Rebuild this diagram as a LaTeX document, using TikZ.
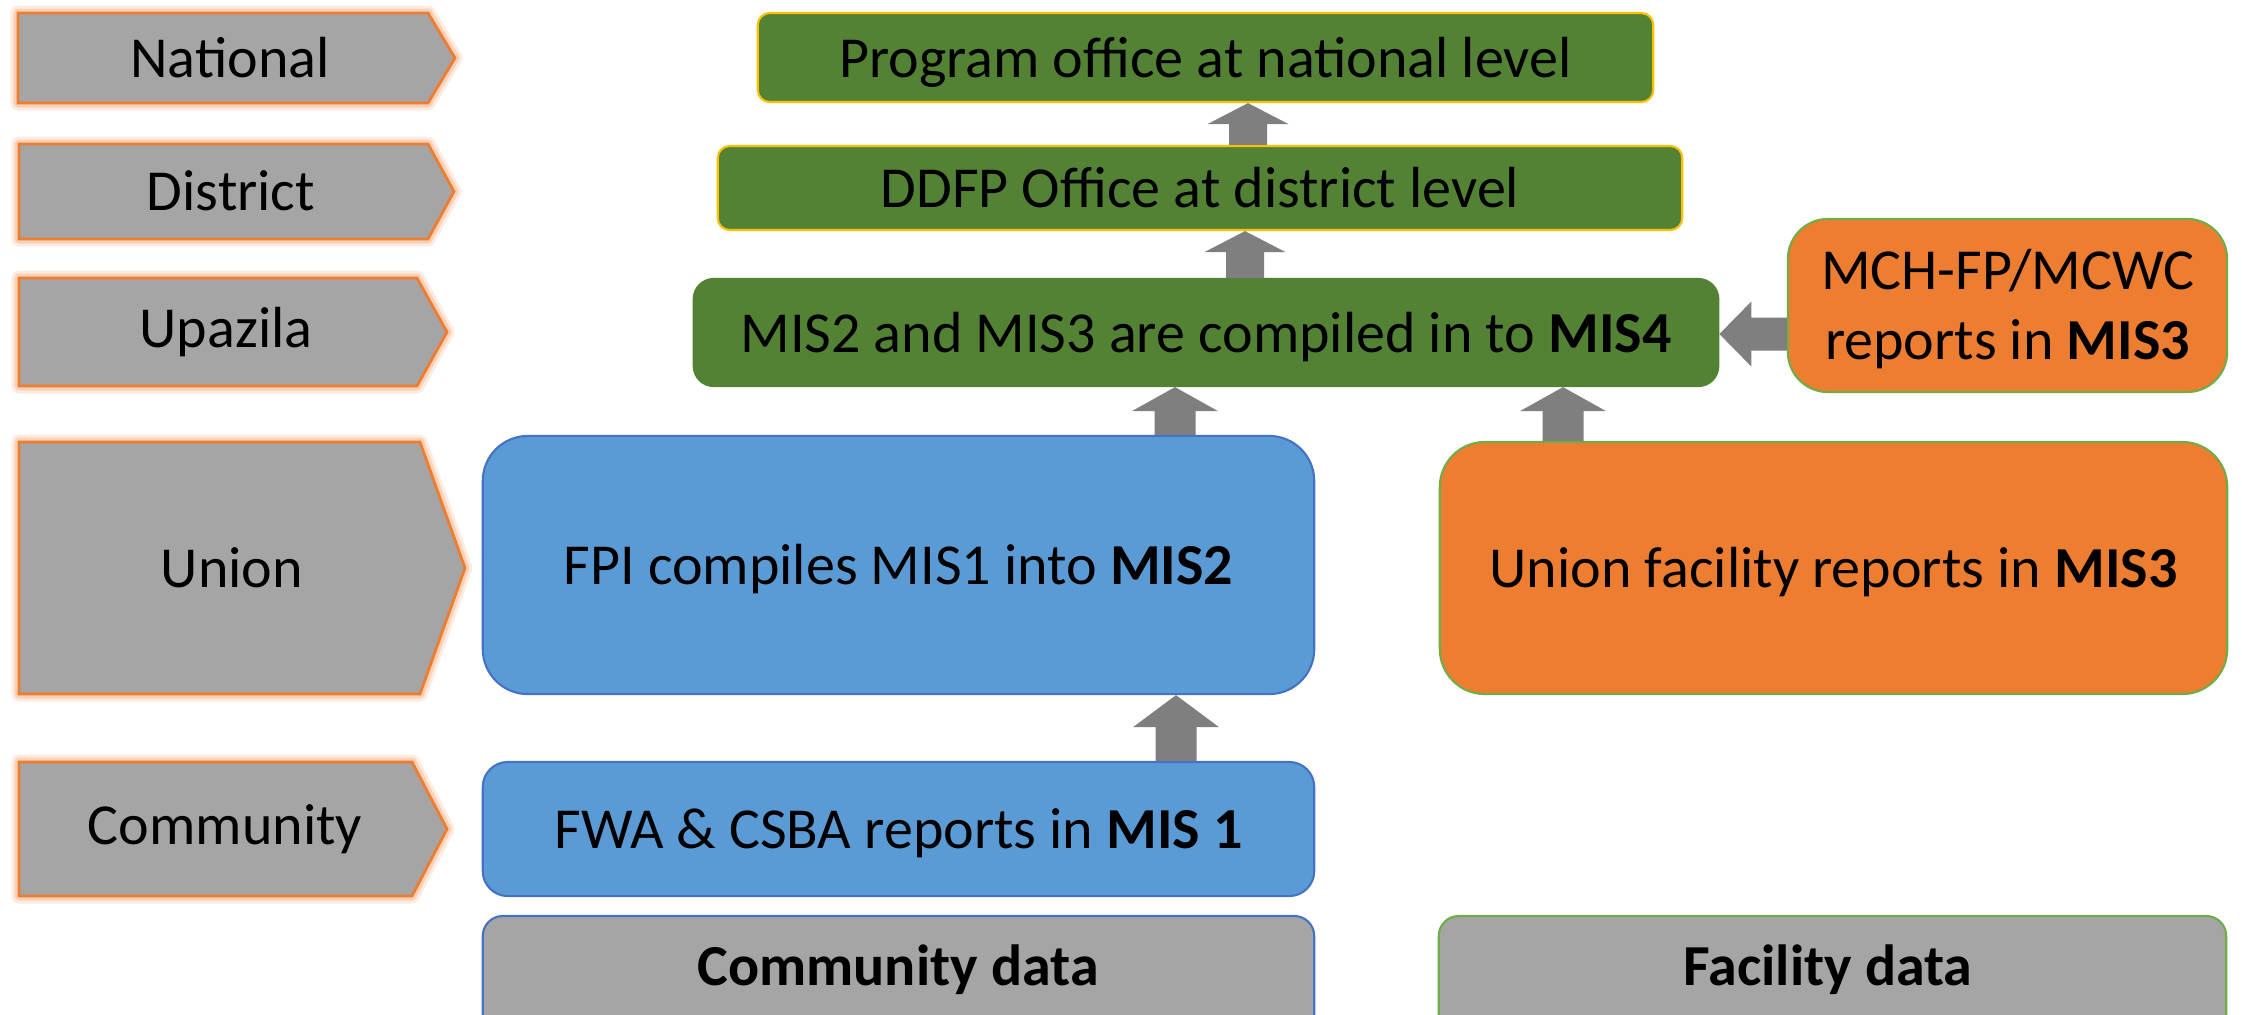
\documentclass[tikz,border=0pt]{standalone}
\usepackage{fontspec}
\setmainfont{Carlito}
\usetikzlibrary{calc}
\definecolor{chevgray}{HTML}{A5A5A5}
\definecolor{orng}{HTML}{ED7D31}
\definecolor{glowc}{HTML}{F4B183}
\definecolor{grn}{HTML}{548235}
\definecolor{yel}{HTML}{FFC000}
\definecolor{blu}{HTML}{5B9BD5}
\definecolor{bluedge}{HTML}{4472C4}
\definecolor{grnedge}{HTML}{70AD47}
\definecolor{arrgray}{HTML}{7F7F7F}
\tikzset{
  box/.style={rectangle, inner sep=0pt, align=center, text=black, line width=0.6pt, text height=0.39cm, text depth=0pt},
  greenbox/.style={box, fill=grn, draw=yel, rounded corners=0.12cm},
  bluebox/.style={box, fill=blu, draw=bluedge},
  orangebox/.style={box, fill=orng, draw=grnedge},
  graybox/.style={box, fill=chevgray, rounded corners=0.2cm},
  lvl/.style={inner sep=0pt, text=black},
}
\newcommand\chev[5]{% x0 y0 xbody xtip y1
  \draw[glowc, line width=0.15cm, opacity=0.25, line join=round] (#1,#2) -- (#3,#2) -- (#4,{(#2+#5)/2}) -- (#3,#5) -- (#1,#5) -- cycle;
  \draw[glowc, line width=0.09cm, opacity=0.45, line join=round] (#1,#2) -- (#3,#2) -- (#4,{(#2+#5)/2}) -- (#3,#5) -- (#1,#5) -- cycle;
  \filldraw[fill=chevgray, draw=orng, line width=0.028cm] (#1,#2) -- (#3,#2) -- (#4,{(#2+#5)/2}) -- (#3,#5) -- (#1,#5) -- cycle;}
\newcommand\uparr[5]{% start, tip, shaft w, head w, head length (px)
  \fill[arrgray] let \p1=#1, \p2=#2 in
    ($(\x1,\y1)+(-#3/2,0)$) -- ($(\x1,\y2)+(-#3/2,#5)$) -- ($(\x1,\y2)+(-#4/2,#5)$) -- (\x1,\y2)
    -- ($(\x1,\y2)+(#4/2,#5)$) -- ($(\x1,\y2)+(#3/2,#5)$) -- ($(\x1,\y1)+(#3/2,0)$) -- cycle;}
\newcommand\leftarr[5]{% start, tip, shaft w, head w, head length (px)
  \fill[arrgray] let \p1=#1, \p2=#2 in
    ($(\x1,\y1)+(0,-#3/2)$) -- ($(\x2,\y1)+(#5,-#3/2)$) -- ($(\x2,\y1)+(#5,-#4/2)$) -- (\x2,\y1)
    -- ($(\x2,\y1)+(#5,#4/2)$) -- ($(\x2,\y1)+(#5,#3/2)$) -- ($(\x1,\y1)+(0,#3/2)$) -- cycle;}
\begin{document}
\begin{tikzpicture}[x=0.01cm, y=-0.01cm, font=\fontsize{16.5}{19.9}\selectfont]
\useasboundingbox (0,0) rectangle (2242,1014);
\clip (0,0) rectangle (2242,1014);

% level chevrons
\chev{18}{13}{428}{455}{103}
\chev{19}{144}{428}{454}{239}
\chev{19}{278}{417}{447}{386}
\chev{19}{442}{420}{465}{694}
\chev{19}{762}{412}{447}{896}
\node[lvl] (lnat) at (230,58) {National};
\node[lvl] (ldist) at (231,191) {District};
\node[lvl] (lupz) at (226,332) {Upazila};
\node[lvl] (lunion) at (232,568) {Union};
\node[lvl] (lcomm) at (225,829) {Community};

% boxes
\node[greenbox, minimum width=8.95cm, minimum height=0.89cm] (nat) at (1205.5,57.5) {Program office at national level};
\node[greenbox, minimum width=9.64cm, minimum height=0.84cm] (dist) at (1200,188) {DDFP Office at district level};
\node[greenbox, draw=grn, rounded corners=0.2cm, minimum width=10.24cm, minimum height=1.07cm] (upz) at (1206,332.5) {MIS2 and MIS3 are compiled in to \textbf{MIS4}};
\node[orangebox, rounded corners=0.4cm, minimum width=4.39cm, minimum height=1.73cm, text height=1.08cm, text depth=0pt] (mch) at (2007.5,305.5) {MCH-FP/MCWC\\reports in \textbf{MIS3}};
\node[bluebox, rounded corners=0.45cm, minimum width=8.31cm, minimum height=2.58cm] (fpi) at (898.5,565) {FPI compiles MIS1 into \textbf{MIS2}};
\node[orangebox, rounded corners=0.45cm, minimum width=7.87cm, minimum height=2.52cm] (ufac) at (1833.5,568) {Union facility reports in \textbf{MIS3}};
\node[bluebox, rounded corners=0.25cm, minimum width=8.31cm, minimum height=1.34cm] (fwa) at (898.5,829) {FWA \& CSBA reports in \textbf{MIS 1}};
\node[graybox, draw=bluedge, minimum width=8.31cm, minimum height=1.3cm] (cdata) at (898.5,981) {};
\node[graybox, draw=grnedge, minimum width=7.87cm, minimum height=1.3cm] (fdata) at (1832.5,981) {};
\node[lvl] (cdatat) at (898,970) {\textbf{Community data}};
\node[lvl] (fdatat) at (1828,970) {\textbf{Facility data}};

% arrows
\coordinate (x1) at (1248,0);
\coordinate (x2) at (1245,0);
\coordinate (x3) at (1175,0);
\coordinate (x4) at (1563,0);
\coordinate (x5) at (1176,0);
\coordinate (y6) at (0,334);
\uparr{(dist.north -| x1)}{(nat.south -| x1)}{38}{81}{21}
\uparr{(upz.north -| x2)}{(dist.south -| x2)}{38}{81}{21}
\uparr{(fpi.north -| x3)}{(upz.south -| x3)}{41}{86}{24}
\uparr{(ufac.north -| x4)}{(upz.south -| x4)}{41}{86}{24}
\uparr{(fwa.north -| x5)}{(fpi.south -| x5)}{41}{86}{32}
\leftarr{(mch.west |- y6)}{(upz.east |- y6)}{33}{65}{32}
\end{tikzpicture}
\end{document}
